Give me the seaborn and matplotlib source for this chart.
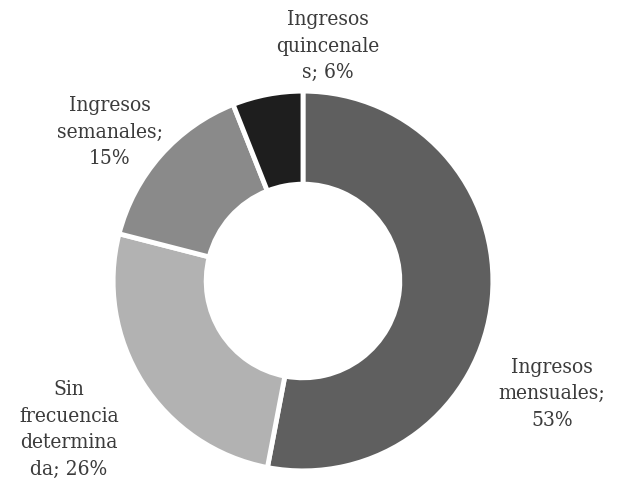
import matplotlib
matplotlib.use("Agg")
import matplotlib.pyplot as plt
import seaborn as sns

# Income frequency shares (percent)
categories = ["Ingresos mensuales", "Sin frecuencia determinada",
              "Ingresos semanales", "Ingresos quincenales"]
shares = [53, 26, 15, 6]
labels = ["Ingresos\nmensuales;\n53%",
          "Sin\nfrecuencia\ndetermina\nda; 26%",
          "Ingresos\nsemanales;\n15%",
          "Ingresos\nquincenale\ns; 6%"]
colors = ["#5f5f5f", "#b2b2b2", "#8a8a8a", "#1e1e1e"]

# label anchor points (data units, ring radius = 1)
label_xy = [(1.324, -0.60), (-1.245, -0.79), (-1.027, 0.793), (0.133, 1.25)]

sns.set_theme(style="white")
plt.rcParams["font.family"] = ["DejaVu Serif"]

fig = plt.figure(figsize=(6.26, 4.86), dpi=100)
ax = fig.add_axes([0, 0, 1, 1])

wedges, _ = ax.pie(shares, colors=colors, startangle=90, counterclock=False,
                   radius=1.01,
                   wedgeprops=dict(width=0.495, edgecolor="white", linewidth=3.5))

for (x, y), lab in zip(label_xy, labels):
    ax.text(x, y, lab, ha="center", va="center", fontsize=15,
            fontstretch="condensed", color="#3c3c3c", linespacing=1.5)

ax.set_xlim(-303 / 188, (626 - 303) / 188)
ax.set_ylim(-(486 - 281) / 188, 281 / 188)
ax.set_aspect("auto")
ax.axis("off")

fig.savefig("out.png", dpi=100, facecolor="white")
